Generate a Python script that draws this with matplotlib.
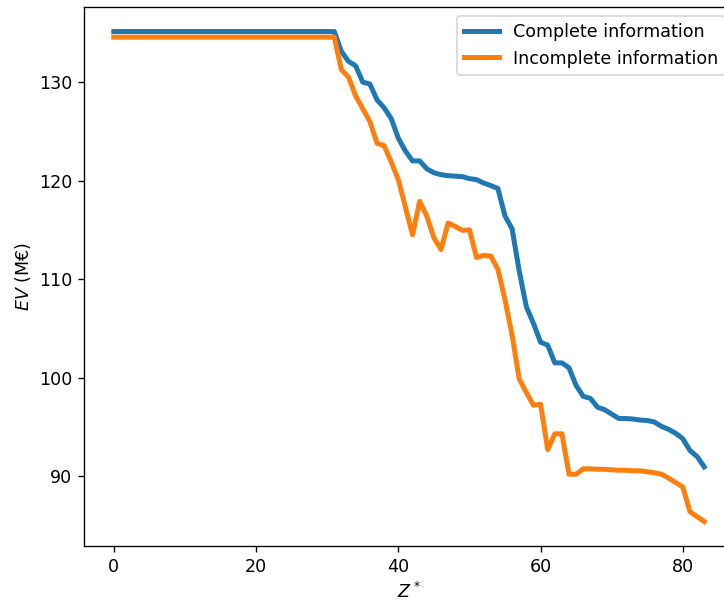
import numpy as np
import matplotlib
matplotlib.use("Agg")
import matplotlib.pyplot as plt

# threshold Z* values
z = np.arange(0, 84)

# expected value (M EUR) with complete information
ev_complete = [135.13] * 32 + [
	133.1, 132.1, 131.65, 130.0, 129.8, 128.2, 127.4, 126.3, 124.3, 123.0,
	122.0, 122.0, 121.2, 120.8, 120.6, 120.5, 120.45, 120.4, 120.2, 120.1,
	119.75, 119.5, 119.2, 116.4, 115.1, 110.8, 107.2, 105.5, 103.6, 103.3,
	101.5, 101.5, 101.0, 99.2, 98.1, 97.9, 97.0, 96.75, 96.3, 95.85,
	95.85, 95.8, 95.7, 95.65, 95.5, 95.05, 94.75, 94.35, 93.8, 92.6,
	92.0, 90.95]

# expected value (M EUR) with incomplete information
ev_incomplete = [134.56] * 32 + [
	131.25, 130.5, 128.6, 127.3, 126.0, 123.8, 123.55, 121.9, 120.1, 117.3,
	114.5, 117.9, 116.4, 114.2, 113.0, 115.7, 115.35, 114.95, 115.0, 112.2,
	112.4, 112.35, 111.0, 107.9, 104.3, 99.85, 98.5, 97.2, 97.3, 92.7,
	94.3, 94.3, 90.2, 90.2, 90.75, 90.75, 90.7, 90.7, 90.65, 90.6,
	90.6, 90.55, 90.55, 90.45, 90.35, 90.2, 89.8, 89.35, 88.9, 86.4,
	85.9, 85.4]


def plot_ev(chart_name):
	plt.rcParams['font.size'] = 10.5
	fig = plt.figure(figsize=(724 / 120, 601 / 120), dpi=120)
	# axes run a little past the right edge of the figure
	ax = fig.add_axes([0.1164, 0.0915, 0.897, 0.8968])
	ax.plot(z, ev_complete, color='#1f77b4', linewidth=3, label='Complete information')
	ax.plot(z, ev_incomplete, color='#ff7f0e', linewidth=3, label='Incomplete information')
	ax.set_xlabel('$Z^*$')
	ax.set_ylabel('$EV$ (M€)')
	ax.legend(loc='upper right')
	fig.savefig("{}.png".format(chart_name), dpi=120)
	plt.close(fig)


def main():
	plot_ev("out")


if __name__ == "__main__":
	main()
